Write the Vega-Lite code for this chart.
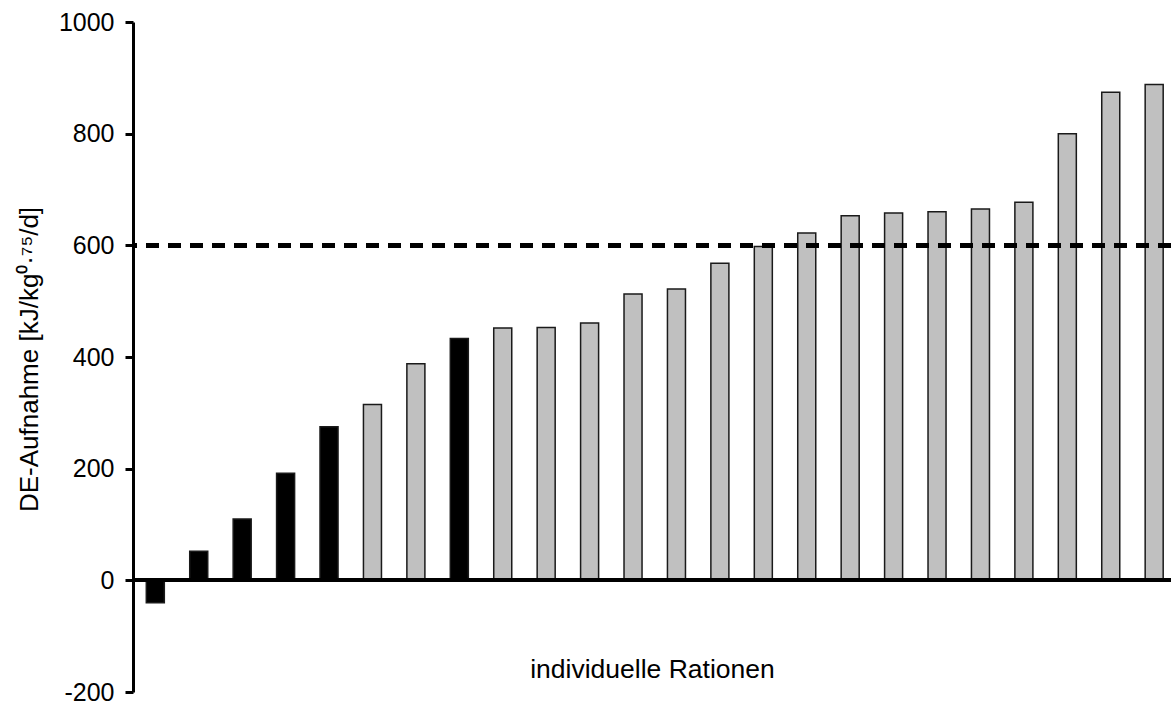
{
  "$schema": "https://vega.github.io/schema/vega-lite/v6.json",
  "width": 1038,
  "height": 670,
  "autosize": "none",
  "padding": {"left": 133, "top": 22, "right": 0, "bottom": 12},
  "background": "white",
  "config": {
    "view": {"stroke": null},
    "font": "Liberation Sans"
  },
  "data": {
    "values": [
      {"ration": 1, "wert": -40, "gruppe": "schwarz"},
      {"ration": 2, "wert": 52, "gruppe": "schwarz"},
      {"ration": 3, "wert": 110, "gruppe": "schwarz"},
      {"ration": 4, "wert": 192, "gruppe": "schwarz"},
      {"ration": 5, "wert": 275, "gruppe": "schwarz"},
      {"ration": 6, "wert": 315, "gruppe": "grau"},
      {"ration": 7, "wert": 388, "gruppe": "grau"},
      {"ration": 8, "wert": 433, "gruppe": "schwarz"},
      {"ration": 9, "wert": 452, "gruppe": "grau"},
      {"ration": 10, "wert": 453, "gruppe": "grau"},
      {"ration": 11, "wert": 461, "gruppe": "grau"},
      {"ration": 12, "wert": 513, "gruppe": "grau"},
      {"ration": 13, "wert": 522, "gruppe": "grau"},
      {"ration": 14, "wert": 568, "gruppe": "grau"},
      {"ration": 15, "wert": 598, "gruppe": "grau"},
      {"ration": 16, "wert": 622, "gruppe": "grau"},
      {"ration": 17, "wert": 653, "gruppe": "grau"},
      {"ration": 18, "wert": 658, "gruppe": "grau"},
      {"ration": 19, "wert": 660, "gruppe": "grau"},
      {"ration": 20, "wert": 665, "gruppe": "grau"},
      {"ration": 21, "wert": 677, "gruppe": "grau"},
      {"ration": 22, "wert": 800, "gruppe": "grau"},
      {"ration": 23, "wert": 874, "gruppe": "grau"},
      {"ration": 24, "wert": 888, "gruppe": "grau"}
    ]
  },
  "encoding": {
    "y": {
      "field": "wert",
      "type": "quantitative",
      "scale": {"domain": [-200, 1000], "nice": false, "zero": false},
      "axis": {
        "values": [-200, 0, 200, 400, 600, 800, 1000],
        "labelExpr": "'' + datum.value",
        "grid": false,
        "domain": true,
        "domainColor": "black",
        "domainWidth": 3,
        "ticks": true,
        "tickColor": "black",
        "tickSize": 8,
        "tickWidth": 3,
        "labelFont": "Liberation Sans",
        "labelFontSize": 25,
        "labelColor": "black",
        "labelPadding": 11,
        "labelBaseline": "middle",
        "title": "DE-Aufnahme [kJ/kg⁰·⁷⁵/d]",
        "titleFont": "Liberation Sans",
        "titleFontSize": 26,
        "titleFontWeight": "normal",
        "titleColor": "black",
        "titleAngle": 270,
        "titleAlign": "center",
        "titleBaseline": "alphabetic",
        "titleX": -96,
        "titleY": 337
      }
    }
  },
  "layer": [
    {
      "mark": {"type": "bar", "stroke": "#1a1a1a", "strokeWidth": 1.5},
      "encoding": {
        "x": {
          "field": "ration",
          "type": "ordinal",
          "scale": {"paddingInner": 0.585, "paddingOuter": 0.243, "align": 0.63},
          "axis": {
            "labels": false,
            "ticks": false,
            "domain": false,
            "grid": false,
            "title": "individuelle Rationen",
            "titleFont": "Liberation Sans",
            "titleFontSize": 26.5,
            "titleFontWeight": "normal",
            "titleColor": "black",
            "titleBaseline": "alphabetic",
            "titleY": -15
          }
        },
        "color": {
          "field": "gruppe",
          "type": "nominal",
          "scale": {"domain": ["schwarz", "grau"], "range": ["#000000", "#c0c0c0"]},
          "legend": null
        }
      }
    },
    {
      "mark": {"type": "rule", "color": "black", "strokeWidth": 3},
      "encoding": {"y": {"datum": 0}}
    },
    {
      "mark": {"type": "rule", "color": "black", "strokeWidth": 4, "strokeDash": [13, 9]},
      "encoding": {"y": {"datum": 600}}
    }
  ]
}
